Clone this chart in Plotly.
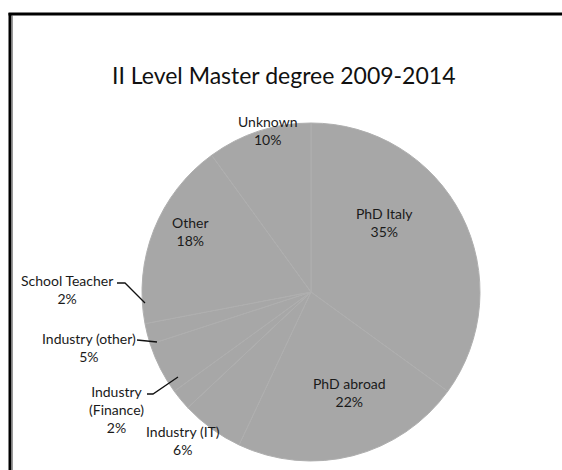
import plotly.graph_objects as go

# ---- data ----
categories = ["PhD Italy", "PhD abroad", "Industry (IT)", "Industry (Finance)",
              "Industry (other)", "School Teacher", "Other", "Unknown"]
shares = [35, 22, 6, 2, 5, 2, 18, 10]
title_text = "II Level Master degree 2009-2014"

# ---- layout helpers (pixel -> paper) ----
W, H = 562, 470
def px(x): return x / W
def py(y): return 1 - y / H

cx, cy, R = 311, 292, 169

FONT = "Lato, Carlito, Calibri, sans-serif"

fig = go.Figure(go.Pie(
    labels=categories, values=shares, sort=False, direction="clockwise",
    rotation=0, textinfo="none", hoverinfo="label+percent",
    marker=dict(colors=["#a7a7a7"] * len(shares),
                line=dict(color="#afafaf", width=1)),
    domain=dict(x=[px(cx - R), px(cx + R)], y=[py(cy + R), py(cy - R)]),
    showlegend=False,
))

# label placements (pixel centres) for each category
label_pos = {
    "PhD Italy": (384, 222),
    "PhD abroad": (349, 392),
    "Industry (IT)": (183, 440),
    "Industry (Finance)": (116, 409),
    "Industry (other)": (89, 347),
    "School Teacher": (67, 289),
    "Other": (190, 231),
    "Unknown": (267, 130),
}
label_text = {
    "Industry (Finance)": "Industry<br>(Finance)",
}
annotations = []
for cat, val in zip(categories, shares):
    x, y = label_pos[cat]
    annotations.append(dict(
        x=px(x), y=py(y), xref="paper", yref="paper",
        text=f"{label_text.get(cat, cat)}<br>{val}%", showarrow=False,
        font=dict(family=FONT, size=14, color="#1a1a1a"),
        xanchor="center", yanchor="middle", align="center"))
annotations.append(dict(
    x=px(283), y=py(75), xref="paper", yref="paper", text=title_text,
    showarrow=False, font=dict(family=FONT, size=23, color="#111111"),
    xanchor="center", yanchor="middle"))

# leader lines for outside labels (pixel paths)
leaders = [
    [(117, 283), (125, 283), (145, 303)],
    [(137, 340), (157, 342)],
    [(147, 394), (153, 394), (178, 377)],
]
shapes = []
for pts in leaders:
    path = "M " + " L ".join(f"{px(x)},{py(y)}" for x, y in pts)
    shapes.append(dict(type="path", xref="paper", yref="paper", path=path,
                       line=dict(color="#111111", width=1.3)))
# chart frame
shapes.append(dict(type="line", xref="paper", yref="paper",
                   x0=px(10), x1=px(10), y0=py(13), y1=py(480),
                   line=dict(color="#000000", width=3)))
shapes.append(dict(type="line", xref="paper", yref="paper",
                   x0=px(12.5), x1=px(12.5), y0=py(15.5), y1=py(480),
                   line=dict(color="#999999", width=1)))
shapes.append(dict(type="line", xref="paper", yref="paper",
                   x0=px(8.5), x1=px(580), y0=py(14), y1=py(14),
                   line=dict(color="#000000", width=3)))

fig.update_layout(
    width=W, height=H, margin=dict(l=0, r=0, t=0, b=0),
    paper_bgcolor="white", plot_bgcolor="white",
    annotations=annotations, shapes=shapes,
)

fig.write_html("out.html")
